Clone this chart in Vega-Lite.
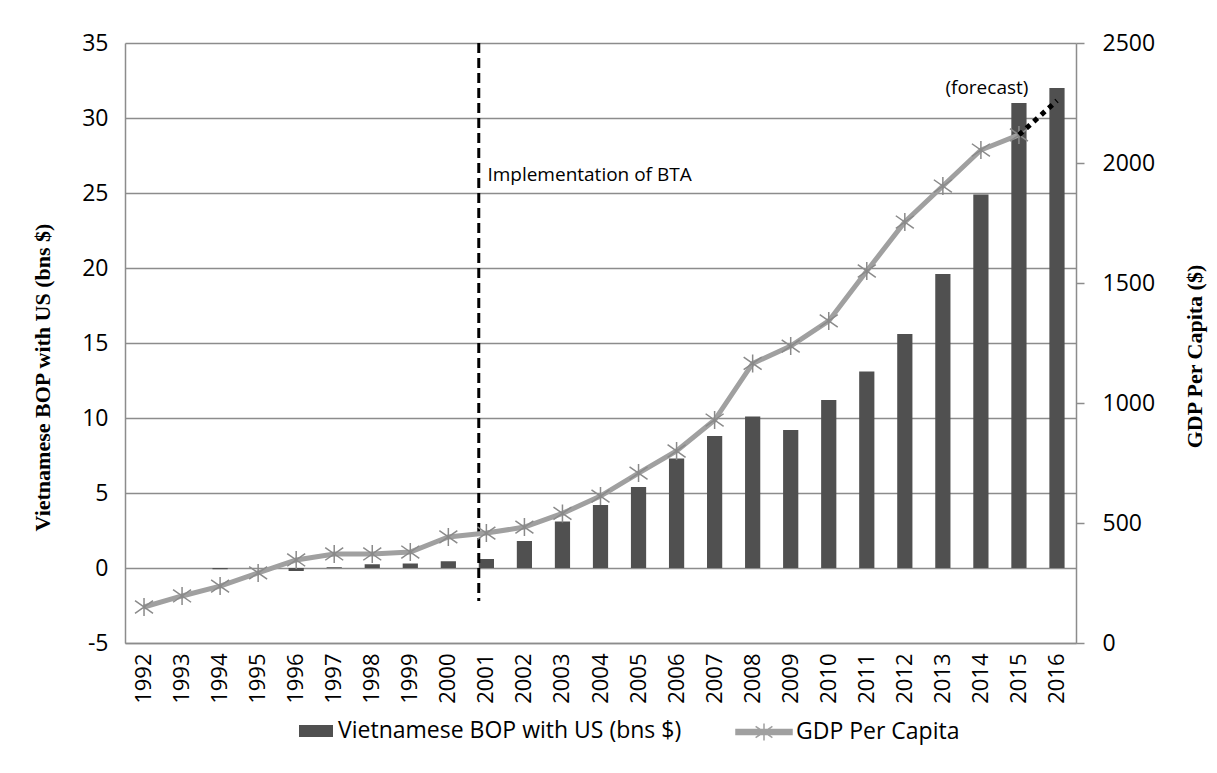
{
  "$schema": "https://vega.github.io/schema/vega-lite/v6.json",
  "width": 951,
  "height": 600,
  "autosize": "none",
  "padding": {"left": 125, "top": 43, "right": 141, "bottom": 130},
  "background": "white",
  "config": {
    "view": {"stroke": null},
    "font": "Open Sans"
  },
  "data": {
    "values": [
      {"year": "1992", "bop": 0, "gdp": 150},
      {"year": "1993", "bop": 0, "gdp": 196},
      {"year": "1994", "bop": -0.08, "gdp": 237},
      {"year": "1995", "bop": 0, "gdp": 292},
      {"year": "1996", "bop": -0.2, "gdp": 346},
      {"year": "1997", "bop": 0.05, "gdp": 371},
      {"year": "1998", "bop": 0.25, "gdp": 371},
      {"year": "1999", "bop": 0.3, "gdp": 379},
      {"year": "2000", "bop": 0.45, "gdp": 442},
      {"year": "2001", "bop": 0.6, "gdp": 458},
      {"year": "2002", "bop": 1.8, "gdp": 483},
      {"year": "2003", "bop": 3.1, "gdp": 540},
      {"year": "2004", "bop": 4.2, "gdp": 612},
      {"year": "2005", "bop": 5.4, "gdp": 708},
      {"year": "2006", "bop": 7.3, "gdp": 800},
      {"year": "2007", "bop": 8.8, "gdp": 929},
      {"year": "2008", "bop": 10.1, "gdp": 1165},
      {"year": "2009", "bop": 9.2, "gdp": 1237},
      {"year": "2010", "bop": 11.2, "gdp": 1342},
      {"year": "2011", "bop": 13.1, "gdp": 1550},
      {"year": "2012", "bop": 15.6, "gdp": 1754},
      {"year": "2013", "bop": 19.6, "gdp": 1904},
      {"year": "2014", "bop": 24.9, "gdp": 2054},
      {"year": "2015", "bop": 31.0, "gdp": 2117, "fc": 2117},
      {"year": "2016", "bop": 32.0, "gdp": null, "fc": 2260}
    ]
  },
  "layer": [
    {
      "layer": [
        {
          "mark": {"type": "bar", "color": "#505050"},
          "encoding": {
            "x": {
              "field": "year", "type": "ordinal", "title": null,
              "scale": {"paddingInner": 0.6, "paddingOuter": 0.3},
              "axis": {
                "labelAngle": -90, "labelFont": "Open Sans", "labelFontSize": 22,
                "labelColor": "#000000", "labelPadding": 10, "ticks": false,
                "domainColor": "#8c8c8c", "domainWidth": 1.5
              }
            },
            "y": {
              "field": "bop", "type": "quantitative",
              "title": "Vietnamese BOP with US (bns $)",
              "scale": {"domain": [-5, 35], "nice": false, "zero": false},
              "axis": {
                "orient": "left",
                "values": [-5, 0, 5, 10, 15, 20, 25, 30, 35],
                "labelExpr": "'' + datum.value",
                "grid": true, "gridColor": "#8c8c8c", "gridWidth": 1.5,
                "domainColor": "#8c8c8c", "domainWidth": 1.5,
                "ticks": false, "labelPadding": 17,
                "labelFont": "Open Sans", "labelFontSize": 23, "labelColor": "#000000",
                "titleFont": "Liberation Serif", "titleFontWeight": "bold",
                "titleFontSize": 22, "titleColor": "#000000",
                "titleX": -83, "titleY": 334, "titleBaseline": "middle"
              }
            },
            "color": {
              "datum": "Vietnamese BOP with US (bns $)",
              "scale": {"domain": ["Vietnamese BOP with US (bns $)"], "range": ["#505050"]},
              "legend": {
                "title": null, "orient": "none", "legendX": 174, "legendY": 671,
                "symbolType": "M-1,-0.35H1V0.35H-1Z", "symbolSize": 1156,
                "symbolStrokeWidth": 0,
                "labelFont": "Open Sans", "labelFontSize": 23, "labelColor": "#000000",
                "labelOffset": 5, "labelLimit": 500
              }
            }
          }
        },
        {
          "data": {"values": [{"year": "2001", "top": 35, "bottom": -2.2}]},
          "mark": {"type": "rule", "color": "#000000", "strokeWidth": 3, "strokeDash": [10, 5]},
          "encoding": {
            "x": {"field": "year", "type": "ordinal", "bandPosition": 0},
            "y": {"field": "top", "type": "quantitative", "title": "Vietnamese BOP with US (bns $)"},
            "y2": {"field": "bottom"}
          }
        },
        {
          "data": {"values": [
            {"year": "2001", "v": 26.2, "label": "Implementation of BTA"}
          ]},
          "mark": {"type": "text", "align": "left", "baseline": "middle", "dx": 1, "font": "Open Sans", "fontSize": 19, "color": "#000000"},
          "encoding": {
            "x": {"field": "year", "type": "ordinal"},
            "y": {"field": "v", "type": "quantitative", "title": "Vietnamese BOP with US (bns $)"},
            "text": {"field": "label"}
          }
        },
        {
          "data": {"values": [
            {"year": "2014", "v": 32.0, "label": "(forecast)"}
          ]},
          "mark": {"type": "text", "align": "center", "baseline": "middle", "dx": 6, "font": "Open Sans", "fontSize": 19, "color": "#000000"},
          "encoding": {
            "x": {"field": "year", "type": "ordinal"},
            "y": {"field": "v", "type": "quantitative", "title": "Vietnamese BOP with US (bns $)"},
            "text": {"field": "label"}
          }
        }
      ]
    },
    {
      "layer": [
        {
          "mark": {"type": "line", "strokeWidth": 5},
          "encoding": {
            "x": {"field": "year", "type": "ordinal"},
            "y": {
              "field": "gdp", "type": "quantitative",
              "title": "GDP Per Capita ($)",
              "scale": {"domain": [0, 2500], "nice": false},
              "axis": {
                "orient": "right",
                "values": [0, 500, 1000, 1500, 2000, 2500],
                "format": "d",
                "grid": false,
                "domainColor": "#8c8c8c", "domainWidth": 1.5,
                "ticks": true, "tickSize": 8, "tickColor": "#8c8c8c", "tickWidth": 1.5,
                "labelPadding": 18,
                "labelFont": "Open Sans", "labelFontSize": 23, "labelColor": "#000000",
                "titleFont": "Liberation Serif", "titleFontWeight": "bold",
                "titleFontSize": 22, "titleColor": "#000000",
                "titleAngle": -90, "titleX": 118, "titleY": 313, "titleBaseline": "middle"
              }
            },
            "stroke": {
              "datum": "GDP Per Capita",
              "scale": {"domain": ["GDP Per Capita"], "range": ["#a0a0a0"]},
              "legend": {
                "title": null, "orient": "none", "legendX": 610, "legendY": 660,
                "symbolType": "M-1,-0.09H1V0.09H-1ZM0,-0.3V0.3M-0.3,-0.2L0.3,0.2M-0.3,0.2L0.3,-0.2",
                "symbolSize": 3136, "symbolFillColor": "#a0a0a0", "symbolStrokeWidth": 1.5,
                "labelFont": "Open Sans", "labelFontSize": 23, "labelColor": "#000000",
                "labelOffset": 3, "labelLimit": 400
              }
            }
          }
        },
        {
          "mark": {"type": "point", "shape": "M0,-1L0,1M-1,-0.7L1,0.7M-1,0.7L1,-0.7", "filled": false, "size": 324, "strokeWidth": 1.5, "color": "#8a8a8a", "opacity": 1},
          "encoding": {
            "x": {"field": "year", "type": "ordinal"},
            "y": {"field": "gdp", "type": "quantitative", "title": "GDP Per Capita ($)"}
          }
        },
        {
          "mark": {"type": "line", "strokeWidth": 5, "color": "#000000", "strokeDash": [5, 5]},
          "encoding": {
            "x": {"field": "year", "type": "ordinal"},
            "y": {"field": "fc", "type": "quantitative", "title": "GDP Per Capita ($)"}
          }
        }
      ]
    }
  ],
  "resolve": {"scale": {"y": "independent"}}
}
